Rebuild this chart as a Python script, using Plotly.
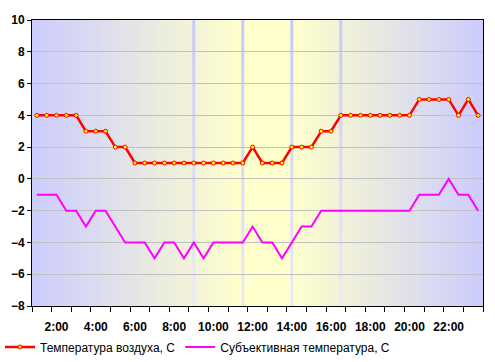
import plotly.graph_objects as go

# ---- data ----
times = ["1:00", "1:30", "2:00", "2:30", "3:00", "3:30", "4:00", "4:30", "5:00", "5:30",
         "6:00", "6:30", "7:00", "7:30", "8:00", "8:30", "9:00", "9:30", "10:00", "10:30",
         "11:00", "11:30", "12:00", "12:30", "13:00", "13:30", "14:00", "14:30", "15:00", "15:30",
         "16:00", "16:30", "17:00", "17:30", "18:00", "18:30", "19:00", "19:30", "20:00", "20:30",
         "21:00", "21:30", "22:00", "22:30", "23:00", "23:30"]
air_temp = [4, 4, 4, 4, 4, 3, 3, 3, 2, 2,
            1, 1, 1, 1, 1, 1, 1, 1, 1, 1,
            1, 1, 2, 1, 1, 1, 2, 2, 2, 3,
            3, 4, 4, 4, 4, 4, 4, 4, 4, 5,
            5, 5, 5, 4, 5, 4]
feel_temp = [-1, -1, -1, -2, -2, -3, -2, -2, -3, -4,
             -4, -4, -5, -4, -4, -5, -4, -5, -4, -4,
             -4, -4, -3, -4, -4, -5, -4, -3, -3, -2,
             -2, -2, -2, -2, -2, -2, -2, -2, -2, -1,
             -1, -1, 0, -1, -1, -2]
tick_labels = ["2:00", "4:00", "6:00", "8:00", "10:00", "12:00", "14:00", "16:00", "18:00", "20:00", "22:00"]
marker_times = ["9:00", "11:30", "14:00", "16:30"]
series_names = ["Температура воздуха, С", "Субъективная температура, С"]


def to_hours(t):
    h, m = t.split(":")
    return int(h) + int(m) / 60.0


x = [to_hours(t) for t in times]
tick_vals = [to_hours(t) for t in tick_labels]
X0, X1 = x[0] - 0.25, x[-1] + 0.25
Y0, Y1 = -8, 10

BLUE = (0xCC, 0xCC, 0xFF)
YEL = (0xFF, 0xFF, 0xCC)


def mix(c1, c2, f):
    return "rgb(%d,%d,%d)" % tuple(round(a + (b - a) * f) for a, b in zip(c1, c2))


yl_start, yl_end = to_hours("11:30"), to_hours("14:00")


def bg_frac(h):
    if h <= yl_start:
        return (h - X0) / (yl_start - X0)
    if h <= yl_end:
        return 1.0
    return (X1 - h) / (X1 - yl_end)


shapes = []
step = 0.1
n = int(round((X1 - X0) / step))
for i in range(n):
    a = X0 + i * step
    b = a + step
    f = max(0.0, min(1.0, bg_frac((a + b) / 2)))
    shapes.append(dict(type="rect", xref="x", yref="y", x0=a, x1=min(b + 0.06, X1), y0=Y0, y1=Y1,
                       fillcolor=mix(BLUE, YEL, f), line=dict(width=0), layer="below"))

# pale vertical marker lines (top darker, bottom lighter)
TOPC = (0xC8, 0xC8, 0xFC)
BOTC = (0xEA, 0xEA, 0xF8)
nseg = 12
for t in marker_times:
    hv = to_hours(t)
    for k in range(nseg):
        ya = Y1 - (Y1 - Y0) * k / nseg
        yb = Y1 - (Y1 - Y0) * (k + 1) / nseg
        shapes.append(dict(type="line", xref="x", yref="y", x0=hv, x1=hv, y0=ya, y1=yb,
                           line=dict(color=mix(TOPC, BOTC, (k + 0.5) / nseg), width=3),
                           layer="below"))

fig = go.Figure()
fig.add_trace(go.Scatter(
    x=x, y=air_temp, name=series_names[0], mode="lines+markers",
    line=dict(color="#ff0000", width=2.5),
    marker=dict(color="#ffff00", size=4, line=dict(color="#ff0000", width=1)),
    hoverinfo="skip"))
fig.add_trace(go.Scatter(
    x=x, y=feel_temp, name=series_names[1], mode="lines",
    line=dict(color="#ff00ff", width=2),
    hoverinfo="skip"))

FONT = "Arial, Liberation Sans, sans-serif"
fig.update_layout(
    width=495, height=362,
    margin=dict(l=32, r=12, t=20, b=56),
    paper_bgcolor="white", plot_bgcolor="white",
    shapes=shapes,
    font=dict(family=FONT, size=12, color="black"),
    showlegend=True,
    legend=dict(orientation="h", x=0.0, xref="container", y=(362 - 347) / 362, yref="container",
                yanchor="middle", xanchor="left", font=dict(size=12, family=FONT),
                itemclick=False, bgcolor="rgba(0,0,0,0)", borderwidth=0,
                tracegroupgap=0, itemwidth=30),
    xaxis=dict(range=[X0, X1], tickmode="array", tickvals=tick_vals, ticktext=tick_labels,
               ticks="", showgrid=False, zeroline=False, automargin=False,
               showline=True, linecolor="black", linewidth=1, mirror=True,
               tickfont=dict(family=FONT, size=12, color="black", weight="bold"),
               ticklabelstandoff=10,
               minor=dict(tickmode="linear", tick0=X0, dtick=1, ticks="outside",
                          ticklen=5, tickcolor="black", tickwidth=1, showgrid=False)),
    yaxis=dict(range=[Y0, Y1], tickmode="linear", tick0=Y0, dtick=2, automargin=False,
               ticks="outside", ticklen=4, tickcolor="black",
               showgrid=True, gridcolor="#c0c0c0", gridwidth=1, zeroline=False,
               showline=True, linecolor="black", linewidth=1, mirror=True,
               tickfont=dict(family=FONT, size=12, color="black", weight="bold")),
)

fig.write_html("out.html", config={"displayModeBar": False},
               post_script="document.body.style.margin='0';")
